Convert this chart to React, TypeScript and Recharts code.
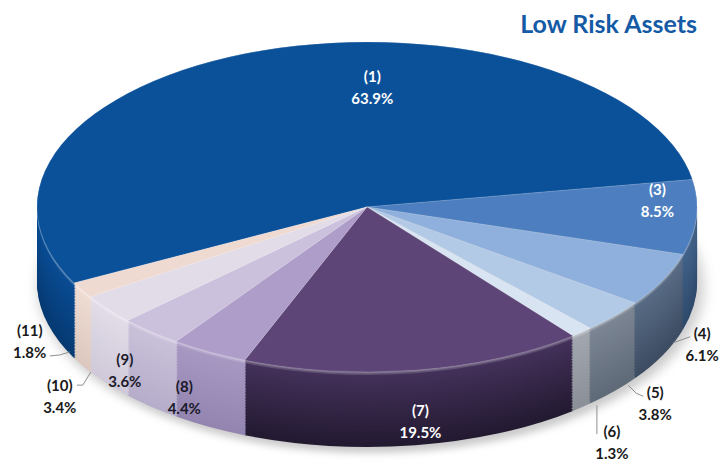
import { PieChart, Pie, Cell } from "recharts";

// slice codes and their shares, clockwise from the big top slice
const codes = ["(1)", "(3)", "(4)", "(5)", "(6)", "(7)", "(8)", "(9)", "(10)", "(11)"];
const shares = [63.9, 8.5, 6.1, 3.8, 1.3, 19.5, 4.4, 3.6, 3.4, 1.8];

// top face colours
const faceColors = [
  "#0b519a", "#4d7fc0", "#8fb0dc", "#b3cae6", "#d9e4f2",
  "#5d4577", "#ae9dc8", "#cbc1dd", "#e1dce8", "#efdad2",
];
// side wall colours, upper edge and lower edge
const wallHigh = [
  "#0a4d95", "#44648c", "#5a6d86", "#7d8795", "#a3a8b0",
  "#45325c", "#a899c3", "#cac2da", "#e2dde8", "#efdcd3",
];
const wallLow = [
  "#073a72", "#2f4a6b", "#3d4d63", "#5f6a78", "#8b9098",
  "#231a31", "#9385b0", "#b6adca", "#cfc9d9", "#dcc8bf",
];

const W = 723;
const H = 462;
const CX = 367;
const CY = 207;
const RX = 330;
const TILT = 0.5;
const DEPTH = 75;
const START = 207.4;
const LAYERS = 50;

const data = codes.map((code, i) => ({ code, value: shares[i] }));

// label offsets from the rim point at each slice's mid angle
const labelPlace: { dx: number; dy: number; color: string; leader?: number[][] }[] = [
  { dx: 110, dy: 36, color: "#ffffff" },
  { dx: -39, dy: -17, color: "#ffffff" },
  { dx: 39, dy: 64, color: "#1a1a1a", leader: [[10, 63], [27, 57]] },
  { dx: 41, dy: 87, color: "#1a1a1a", leader: [[14, 69], [22, 77], [29, 80]] },
  { dx: 30, dy: 110, color: "#1a1a1a", leader: [[15, 73], [15, 102]] },
  { dx: 5, dy: 51, color: "#ffffff" },
  { dx: -25, dy: 45, color: "#1a1a2a" },
  { dx: -26, dy: 38, color: "#1a1a2a" },
  { dx: -48, dy: 87, color: "#1a1a1a", leader: [[-17, 63], [-25, 76], [-31, 76]] },
  { dx: -52, dy: 51, color: "#1a1a1a", leader: [[-12, 62], [-22, 65], [-32, 66]] },
];

function mix(a: string, b: string, t: number) {
  const pa = [1, 3, 5].map((k) => parseInt(a.slice(k, k + 2), 16));
  const pb = [1, 3, 5].map((k) => parseInt(b.slice(k, k + 2), 16));
  const c = pa.map((v, k) => Math.round(v + (pb[k] - v) * t));
  return "#" + c.map((v) => v.toString(16).padStart(2, "0")).join("");
}

function wallColor(k: number, t: number, i: number) {
  const base = mix(wallHigh[k], wallLow[k], t);
  // light bevel along the rim
  if (i < 3) return mix(base, "#ffffff", 0.45 * (1 - i / 3));
  return base;
}

function renderLabel(props: any) {
  const { cx, cy, midAngle, outerRadius, index, value } = props;
  const rad = (midAngle * Math.PI) / 180;
  const ex = cx + outerRadius * Math.cos(rad);
  const ey = cy - outerRadius * TILT * Math.sin(rad);
  const p = labelPlace[index];
  const x = ex + p.dx;
  const y = ey + p.dy;
  const font = { fontFamily: "Lato, 'Open Sans', sans-serif", fontWeight: 700, fontSize: 15 };
  return (
    <g key={`lbl-${index}`}>
      {p.leader && (
        <polyline
          points={p.leader.map(([a, b]) => `${ex + a},${ey + b}`).join(" ")}
          fill="none"
          stroke="#8f8f8f"
          strokeWidth={1}
        />
      )}
      <text x={x} y={y - 11} textAnchor="middle" dominantBaseline="central" fill={p.color} {...font}>
        {codes[index]}
      </text>
      <text x={x} y={y + 11} textAnchor="middle" dominantBaseline="central" fill={p.color} {...font}>
        {`${Number(value).toFixed(1)}%`}
      </text>
    </g>
  );
}

const layers = Array.from({ length: LAYERS }, (_, i) => LAYERS - 1 - i);

export default function App() {
  return (
    <div style={{ position: "absolute", left: 0, top: 0, width: W, height: H, background: "#fff" }}>
      <style>{`
        g.recharts-pie.squash { transform: scale(1, ${TILT}); }
        g.recharts-pie.drop { filter: blur(7px); opacity: 0.45; }
      `}</style>
      <PieChart width={W} height={H} margin={{ top: 0, right: 0, bottom: 0, left: 0 }}>
        <Pie
          data={data}
          dataKey="value"
          className="squash drop"
          cx={CX + 4}
          cy={(CY + DEPTH + 5) / TILT}
          outerRadius={RX + 2}
          startAngle={START}
          endAngle={START - 360}
          stroke="none"
          isAnimationActive={false}
        >
          {data.map((_, k) => (
            <Cell key={k} fill="#8a8a8a" />
          ))}
        </Pie>
        {layers.map((i) => {
          const t = i / (LAYERS - 1);
          return (
            <Pie
              key={`wall-${i}`}
              data={data}
              dataKey="value"
              className="squash"
              cx={CX}
              cy={(CY + DEPTH * t) / TILT}
              outerRadius={RX}
              startAngle={START}
              endAngle={START - 360}
              stroke="none"
              isAnimationActive={false}
            >
              {data.map((_, k) => (
                <Cell key={k} fill={wallColor(k, t, i)} />
              ))}
            </Pie>
          );
        })}
        <Pie
          data={data}
          dataKey="value"
          className="squash"
          cx={CX}
          cy={CY / TILT}
          outerRadius={RX}
          startAngle={START}
          endAngle={START - 360}
          stroke="rgba(255,255,255,0.2)"
          strokeWidth={1}
          isAnimationActive={false}
        >
          {data.map((_, k) => (
            <Cell key={k} fill={faceColors[k]} />
          ))}
        </Pie>
        <Pie
          data={data}
          dataKey="value"
          cx={CX}
          cy={CY}
          outerRadius={RX}
          startAngle={START}
          endAngle={START - 360}
          fill="none"
          stroke="none"
          label={renderLabel}
          labelLine={false}
          isAnimationActive={false}
        >
          {data.map((_, k) => (
            <Cell key={k} fill="none" />
          ))}
        </Pie>
      </PieChart>
      <svg width={W} height={H} style={{ position: "absolute", left: 0, top: 0, pointerEvents: "none" }}>
        <text
          x={697}
          y={33}
          textAnchor="end"
          fill="#145aa5"
          fontFamily="Lato, 'Open Sans', sans-serif"
          fontWeight={700}
          fontSize={25}
        >
          Low Risk Assets
        </text>
      </svg>
    </div>
  );
}
